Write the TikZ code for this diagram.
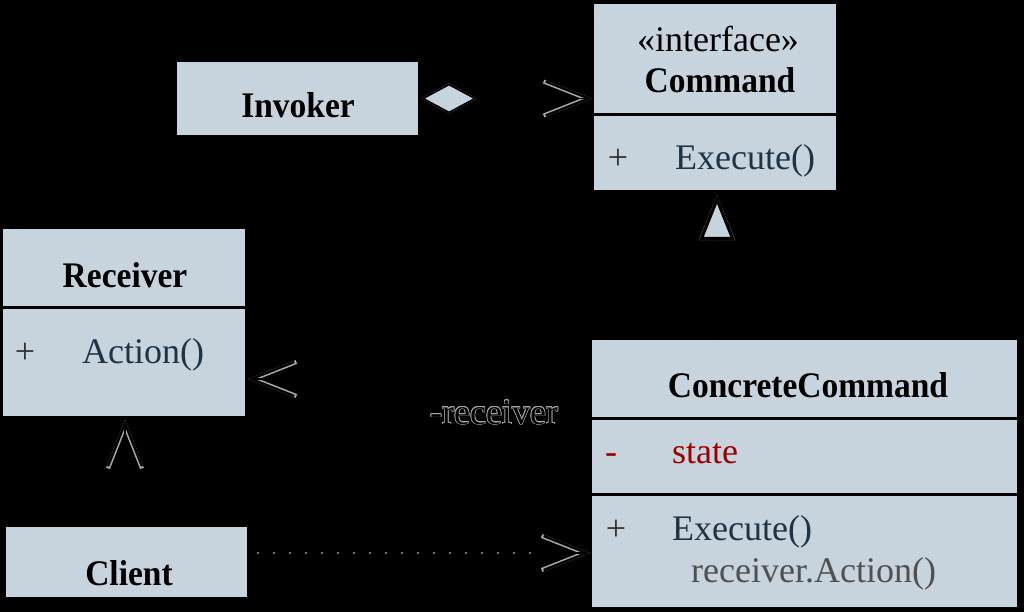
\documentclass[tikz,border=0pt]{standalone}
\usepackage{fontspec}
\setmainfont{Liberation Serif}[BoldFeatures={FakeStretch=0.93}]
\usepackage{contour}
\contourlength{0.7pt}
\usetikzlibrary{arrows.meta}
\definecolor{boxc}{HTML}{C8D4DD}
\definecolor{haloc}{HTML}{A8A8A8}
\definecolor{opc}{HTML}{1E3446}
\definecolor{redc}{HTML}{990000}
\definecolor{grayt}{HTML}{505050}
\definecolor{plusc}{HTML}{333333}
\begin{document}
\begin{tikzpicture}[x=1pt,y=-1pt,
  box/.style={fill=boxc, draw=none, inner sep=0pt, outer sep=0pt, anchor=north west},
  txt/.style={anchor=base west, inner sep=0pt, font=\fontsize{36}{40}\selectfont},
  ctxt/.style={anchor=base, inner sep=0pt, font=\fontsize{36}{40}\selectfont},
  ttl/.style={anchor=base, inner sep=0pt, font=\fontsize{36}{40}\selectfont\bfseries},
  divider/.style={line width=3pt, black},
  conn/.style={draw=black, line width=1.5pt},
  openH/.style={-{Straight Barb[length=43pt,width=34pt,color=haloc,line width=4pt]}},
  openC/.style={-{Straight Barb[length=43pt,width=34pt,color=black,line width=2.4pt]}},
  aggH/.style={{Diamond[length=56pt,width=30pt,fill=boxc,color=haloc,line width=3.4pt]}-{Straight Barb[length=43pt,width=34pt,color=haloc,line width=4pt]}},
  aggC/.style={{Diamond[length=56pt,width=30pt,fill=boxc,color=black,line width=1.8pt]}-{Straight Barb[length=43pt,width=34pt,color=black,line width=2.4pt]}},
  triH/.style={-{Triangle[length=45pt,width=35pt,fill=boxc,color=haloc,line width=5pt]}},
  triC/.style={-{Triangle[length=45pt,width=35pt,fill=boxc,color=black,line width=3.2pt]}},
]
\useasboundingbox (0,0) rectangle (1024,612);
\fill[black] (0,0) rectangle (1024,612);

% boxes
\node[box, minimum width=241pt, minimum height=73pt] (inv) at (177,62) {};
\node[box, minimum width=242pt, minimum height=186pt] (cmd) at (594,4) {};
\node[box, minimum width=242pt, minimum height=187pt] (rcv) at (3,229) {};
\node[box, minimum width=425pt, minimum height=267pt] (cc) at (592,340) {};
\node[box, minimum width=241pt, minimum height=70pt] (cli) at (6,527) {};

% dividers
\draw[divider] (cmd.west |- 0,115) -- (cmd.east |- 0,115);
\draw[divider] (rcv.west |- 0,307) -- (rcv.east |- 0,307);
\draw[divider] (cc.west |- 0,418) -- (cc.east |- 0,418);
\draw[divider] (cc.west |- 0,494) -- (cc.east |- 0,494);

% texts
\node[ttl] (invt) at (298,118) {Invoker};
\node[ctxt] (cmds) at (718,52) {«interface»};
\node[ttl] (cmdt) at (720,93) {Command};
\node[ctxt, text=plusc] (cmdp) at (618,170) {+};
\node[txt, text=opc] (cmdo) at (675,170) {Execute()};
\node[ttl] (rcvt) at (125,287) {Receiver};
\node[ctxt, text=plusc] (rcvp) at (25,363) {+};
\node[txt, text=opc] (rcvo) at (82,363) {Action()};
\node[ttl] (cct) at (808,397) {ConcreteCommand};
\node[ctxt, text=redc] (ccm) at (611,463) {-};
\node[txt, text=redc] (cca) at (672,463) {state};
\node[ctxt, text=plusc] (ccp) at (616,540) {+};
\node[txt, text=opc] (cco) at (672,540) {Execute()};
\node[txt, text=grayt] (ccb) at (691,582) {receiver.Action()};
\node[ttl] (clit) at (129,585) {Client};

% connectors
\coordinate (gx) at (717,0);
\coordinate (ry) at (0,379);
\coordinate (cy) at (0,553);
\coordinate (ux) at (125,0);

\draw[conn, aggH, shorten <=3pt, shorten >=2pt] (inv.east) -- (inv.east -| cmd.west);
\draw[conn, aggC, shorten <=3pt, shorten >=2pt] (inv.east) -- (inv.east -| cmd.west);

\draw[conn, triH, shorten >=5pt] (cc.north -| gx) -- (cmd.south -| gx);
\draw[conn, triC, shorten >=5pt] (cc.north -| gx) -- (cmd.south -| gx);

\draw[conn, openH, shorten >=3pt] (cc.west |- ry) -- (rcv.east |- ry);
\draw[conn, openC, shorten >=3pt] (cc.west |- ry) -- (rcv.east |- ry);

\draw[conn, openH, shorten >=4pt] (cli.north -| ux) -- (rcv.south -| ux);
\draw[conn, openC, shorten >=4pt] (cli.north -| ux) -- (rcv.south -| ux);

\draw[conn, openH, draw=black, shorten >=2pt] (cli.east |- cy) -- (cc.west |- cy);
\draw[conn, openC, shorten >=2pt] (cli.east |- cy) -- (cc.west |- cy);
\draw[draw=black!55!white, line width=1.2pt, dash pattern=on 2pt off 14pt, shorten >=50pt, shorten <=10pt] (cli.east |- cy) -- (cc.west |- cy);

\node[ctxt, font=\fontsize{36}{40}\selectfont] (rlab) at (494,424) {\color{black}\contour{haloc}{-receiver}};
\end{tikzpicture}
\end{document}
